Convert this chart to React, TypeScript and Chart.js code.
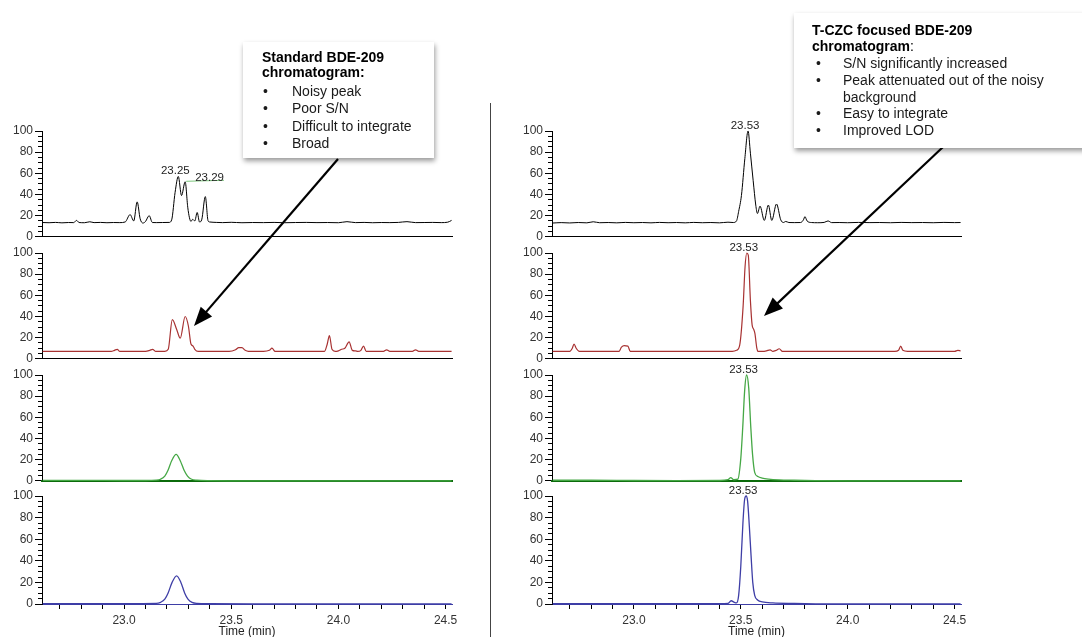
import React, { useEffect, useRef } from "react";
import { Chart, registerables } from "chart.js";
Chart.register(...registerables);

const FONT = '"Liberation Sans", Arial, sans-serif';

// ---------- axes ----------
const X_MIN = 22.617;
const X_MAX = 24.53;
const X_TICKS = [22.7, 22.8, 22.9, 23.0, 23.1, 23.2, 23.3, 23.4, 23.5, 23.6, 23.7, 23.8, 23.9, 24.0, 24.1, 24.2, 24.3, 24.4, 24.5];
const X_TICK_LABELS = ["23.0", "23.5", "24.0", "24.5"];
const Y_MAJOR_TICKS = [0, 20, 40, 60, 80, 100];
const X_TITLE = "Time (min)";

// ---------- left column (standard) ----------
const L1_T = [22.62, 22.65, 22.68, 22.71, 22.74, 22.765, 22.778, 22.79, 22.815, 22.84, 22.86, 22.89, 22.92, 22.95, 22.98, 23.005, 23.028, 23.045, 23.061, 23.075, 23.088, 23.1, 23.117, 23.132, 23.15, 23.18, 23.21, 23.222, 23.238, 23.253, 23.268, 23.285, 23.297, 23.305, 23.312, 23.32, 23.33, 23.341, 23.352, 23.362, 23.379, 23.392, 23.4, 23.43, 23.46, 23.5, 23.55, 23.6, 23.65, 23.7, 23.75, 23.8, 23.85, 23.9, 23.95, 24.0, 24.04, 24.08, 24.12, 24.16, 24.2, 24.24, 24.28, 24.32, 24.36, 24.4, 24.44, 24.48, 24.51, 24.528];
const L1_V = [13.5, 13.3, 13.6, 13.2, 13.5, 13.4, 15.5, 13.5, 13.3, 14.2, 13.4, 13.6, 13.3, 13.5, 13.4, 14, 21, 15, 33, 17, 13, 14.5, 20, 13.5, 13.4, 13.5, 13.6, 16, 42, 57, 39, 52, 28, 18, 14.5, 16.5, 15, 23, 14, 16, 38, 15, 14, 13.6, 13.4, 13.7, 13.3, 13.5, 13.4, 13.6, 13.3, 13.5, 13.6, 13.4, 13.5, 13.3, 14.3, 13.4, 13.6, 13.3, 13.5, 13.4, 13.6, 14.3, 13.4, 13.5, 13.6, 13.4, 13.8, 15.5];

const L2_T = [22.62, 22.7, 22.78, 22.86, 22.94, 22.955, 22.968, 22.98, 23.03, 23.1, 23.12, 23.133, 23.148, 23.19, 23.206, 23.225, 23.245, 23.262, 23.285, 23.3, 23.312, 23.322, 23.33, 23.345, 23.4, 23.49, 23.52, 23.535, 23.55, 23.565, 23.58, 23.65, 23.678, 23.69, 23.705, 23.8, 23.9, 23.935, 23.948, 23.958, 23.97, 23.985, 24.0, 24.015, 24.03, 24.05, 24.065, 24.08, 24.09, 24.105, 24.117, 24.13, 24.17, 24.21, 24.225, 24.24, 24.3, 24.345, 24.36, 24.375, 24.45, 24.528];
const L2_V = [7, 7, 7, 7, 7, 8, 9, 7, 7, 7, 8, 9, 7, 7, 9, 37, 28, 19.5, 40, 31, 14, 12, 9, 7, 7, 7, 8.5, 10.5, 10.5, 8, 7, 7, 8, 10, 7, 7, 7, 7, 14, 22, 9, 7, 7.5, 9, 10, 16, 8, 7.5, 7, 8, 12, 7, 7, 7, 8.5, 7, 7, 7, 8.5, 7, 7, 7];

const L3_T = [22.62, 22.8, 23.0, 23.1, 23.15, 23.17, 23.19, 23.205, 23.222, 23.243, 23.262, 23.28, 23.296, 23.315, 23.34, 23.4, 23.6, 24.528];
const L3_V = [0.4, 0.4, 0.3, 0.3, 0.6, 1.5, 4.5, 10, 19, 25, 19, 10, 4.5, 1.5, 0.6, 0.2, 0, 0];

const L4_T = [22.62, 23.0, 23.15, 23.17, 23.19, 23.205, 23.224, 23.245, 23.265, 23.283, 23.298, 23.317, 23.34, 23.4, 23.6, 24.528];
const L4_V = [0.3, 0.3, 0.5, 1.5, 4.5, 10, 20, 26, 20, 10, 4.5, 1.5, 0.6, 0.3, 0.1, 0];

// ---------- right column (T-CZC focused) ----------
const R1_T = [22.62, 22.66, 22.7, 22.74, 22.78, 22.81, 22.84, 22.88, 22.92, 22.96, 23.0, 23.04, 23.08, 23.12, 23.16, 23.2, 23.24, 23.28, 23.32, 23.36, 23.4, 23.44, 23.465, 23.48, 23.49, 23.503, 23.519, 23.534, 23.545, 23.558, 23.57, 23.578, 23.59, 23.61, 23.629, 23.645, 23.667, 23.687, 23.7, 23.71, 23.725, 23.75, 23.78, 23.793, 23.8, 23.81, 23.83, 23.86, 23.89, 23.908, 23.925, 23.96, 24.0, 24.05, 24.1, 24.15, 24.2, 24.25, 24.3, 24.35, 24.4, 24.45, 24.5, 24.528];
const R1_V = [13, 13.4, 13.1, 13.5, 13.2, 14.2, 13.3, 13.5, 13.2, 13.6, 13.3, 13.5, 13.2, 13.6, 13.3, 13.5, 13.2, 13.6, 13.3, 13.5, 13.2, 13.8, 13.5, 15, 24, 39, 74, 100, 79, 53, 30, 22, 29, 15.5, 30, 15.5, 31, 16, 13.5, 14.5, 13.5, 13.4, 13.5, 16, 19, 15, 13.5, 13.3, 13.6, 15, 13.4, 13.5, 13.3, 13.6, 13.4, 13.5, 13.3, 13.6, 13.4, 13.5, 13.3, 13.6, 13.4, 13.5];

const R2_T = [22.62, 22.66, 22.7, 22.712, 22.72, 22.73, 22.745, 22.8, 22.88, 22.93, 22.942, 22.955, 22.972, 22.983, 23.0, 23.1, 23.2, 23.3, 23.4, 23.46, 23.48, 23.495, 23.511, 23.52, 23.528, 23.535, 23.545, 23.553, 23.56, 23.566, 23.575, 23.58, 23.6, 23.62, 23.637, 23.65, 23.665, 23.68, 23.695, 23.75, 23.85, 23.95, 24.05, 24.15, 24.22, 24.238, 24.248, 24.258, 24.28, 24.35, 24.45, 24.5, 24.515, 24.528];
const R2_V = [7, 7, 7, 10, 14, 10, 7, 7, 7, 7, 11, 12.4, 12, 7, 7, 7, 7, 7, 7, 7, 8, 13, 50, 87, 100, 98, 55, 32, 28, 24, 10, 7, 7, 7.5, 8.5, 7, 8, 9.5, 7, 7, 7, 7, 7, 7, 7, 8, 12, 8, 7, 7, 7, 7, 8, 7.5];

const R3_T = [22.62, 22.8, 23.0, 23.2, 23.4, 23.44, 23.453, 23.468, 23.486, 23.5, 23.509, 23.518, 23.527, 23.537, 23.547, 23.555, 23.565, 23.58, 23.6, 23.63, 23.68, 23.75, 23.85, 24.0, 24.528];
const R3_V = [0.5, 0.5, 0.3, 0.2, 0.3, 1, 3, 1, 1.5, 21, 50, 85, 100, 88, 50, 25, 8, 4, 2.5, 1.5, 0.8, 0.5, 0.2, 0, 0];

const R4_T = [22.62, 23.0, 23.4, 23.44, 23.455, 23.47, 23.48, 23.49, 23.5, 23.51, 23.518, 23.525, 23.532, 23.54, 23.548, 23.556, 23.565, 23.58, 23.6, 23.65, 23.75, 23.85, 24.0, 24.528];
const R4_V = [0.3, 0.3, 0.3, 0.5, 3, 1.5, 1, 8, 35, 75, 97, 100, 95, 72, 45, 20, 8, 3.5, 2, 1, 0.5, 0.2, 0, 0];

// ---------- peak labels (retention times) ----------
const L1_LABELS = [{ t: 23.253, text: "23.25", side: "top" }, { t: 23.285, text: "23.29", side: "right" }];
const R1_LABELS = [{ t: 23.534, text: "23.53", side: "top" }];
const R2_LABELS = [{ t: 23.528, text: "23.53", side: "top" }];
const R3_LABELS = [{ t: 23.527, text: "23.53", side: "top" }];
const R4_LABELS = [{ t: 23.525, text: "23.53", side: "top" }];

// ---------- annotation text ----------
const LEFT_NOTE_TITLE = ["Standard BDE-209", "chromatogram:"];
const LEFT_NOTE_BULLETS = ["Noisy peak", "Poor S/N", "Difficult to integrate", "Broad"];
const RIGHT_NOTE_TITLE = ["T-CZC focused BDE-209", "chromatogram"];
const RIGHT_NOTE_BULLETS = [["S/N significantly increased"], ["Peak attenuated out of the noisy", "background"], ["Easy to integrate"], ["Improved LOD"]];

const RED = "#a83232";
const GREEN = "#46a846";
const BLUE = "#3e3ea6";

type Panel = { col: number; row: number; t: number[]; v: number[]; color: string; width: number; axisColor: string; axisWidth: number; labels: { t: number; text: string; side: string }[] };

const PANELS: Panel[] = [
  { col: 0, row: 0, t: L1_T, v: L1_V, color: "#000", width: 1, axisColor: "#000", axisWidth: 1, labels: L1_LABELS },
  { col: 0, row: 1, t: L2_T, v: L2_V, color: RED, width: 1.2, axisColor: "#000", axisWidth: 1, labels: [] },
  { col: 0, row: 2, t: L3_T, v: L3_V, color: GREEN, width: 1.3, axisColor: "#0b6b0b", axisWidth: 2, labels: [] },
  { col: 0, row: 3, t: L4_T, v: L4_V, color: BLUE, width: 1.3, axisColor: BLUE, axisWidth: 1, labels: [] },
  { col: 1, row: 0, t: R1_T, v: R1_V, color: "#000", width: 1, axisColor: "#000", axisWidth: 1, labels: R1_LABELS },
  { col: 1, row: 1, t: R2_T, v: R2_V, color: RED, width: 1.2, axisColor: "#000", axisWidth: 1, labels: R2_LABELS },
  { col: 1, row: 2, t: R3_T, v: R3_V, color: GREEN, width: 1.3, axisColor: "#0b6b0b", axisWidth: 2, labels: R3_LABELS },
  { col: 1, row: 3, t: R4_T, v: R4_V, color: BLUE, width: 1.3, axisColor: BLUE, axisWidth: 1, labels: R4_LABELS },
];

// layout geometry (page pixels)
const COL_X = [0, 500];
const COL_W = [480, 582];
const Y_AXIS_W = [42, 52];
const PAD_R = [28, 121];
const ROW_TOP = [131, 253, 375, 496];
const ROW_BOTTOM = [239, 361, 483, 604];
const PAGE_H = 637;

function geom(p: Panel) {
  const last = p.row === 3;
  const top = ROW_TOP[p.row] - 15;
  const h = last ? PAGE_H - top : ROW_BOTTOM[p.row] - ROW_TOP[p.row] + 25;
  return { left: COL_X[p.col], top, w: COL_W[p.col], h, last };
}

const majorTickPlugin = {
  id: "majorTicks",
  afterDraw(chart: any) {
    const ys = chart.scales.y;
    const ctx = chart.ctx;
    const x0 = chart.chartArea.left;
    ctx.save();
    ctx.strokeStyle = "#000";
    ctx.lineWidth = 1;
    Y_MAJOR_TICKS.forEach((v) => {
      const py = Math.round(ys.getPixelForValue(v) - 0.5) + 0.5;
      ctx.beginPath();
      ctx.moveTo(x0 - 7, py);
      ctx.lineTo(x0 - 2, py);
      ctx.stroke();
    });
    ctx.restore();
  },
};

function peakLabelPlugin(labels: Panel["labels"]) {
  return {
    id: "peakLabels",
    afterDatasetsDraw(chart: any) {
      if (!labels.length) return;
      const ctx = chart.ctx;
      const xs = chart.scales.x;
      const ys = chart.scales.y;
      const data = chart.data.datasets[0].data as { x: number; y: number }[];
      ctx.save();
      ctx.font = `11.5px ${FONT}`;
      ctx.fillStyle = "#222";
      labels.forEach((l) => {
        let best = data[0];
        data.forEach((pt) => {
          if (Math.abs(pt.x - l.t) < Math.abs(best.x - l.t)) best = pt;
        });
        const px = xs.getPixelForValue(best.x);
        const py = ys.getPixelForValue(best.y);
        if (l.side === "right") {
          const w = ctx.measureText(l.text).width;
          ctx.strokeStyle = "#7cc67c";
          ctx.lineWidth = 1;
          ctx.beginPath();
          ctx.moveTo(px + 1, py - 0.5);
          ctx.lineTo(px + 10 + w, py - 1.5);
          ctx.stroke();
          ctx.textAlign = "left";
          ctx.textBaseline = "alphabetic";
          ctx.fillText(l.text, px + 10, py - 1);
        } else {
          ctx.textAlign = "center";
          ctx.textBaseline = "alphabetic";
          ctx.fillText(l.text, px - 3, py - 2.5);
        }
      });
      ctx.restore();
    },
  };
}

function xLabel(v: number) {
  const hit = X_TICK_LABELS.find((s) => Math.abs(parseFloat(s) - v) < 1e-6);
  return hit ?? "";
}

function makeChart(canvas: HTMLCanvasElement, p: Panel) {
  const g = geom(p);
  const last = g.last;
  return new Chart(canvas, {
    type: "line",
    data: {
      datasets: [
        {
          data: p.t.map((t, k) => ({ x: t, y: p.v[k] })),
          borderColor: p.color,
          borderWidth: p.width,
          pointRadius: 0,
          cubicInterpolationMode: "monotone",
          clip: false as any,
          fill: false,
        },
      ],
    },
    options: {
      responsive: false,
      maintainAspectRatio: false,
      animation: false,
      events: [],
      layout: { padding: { top: 15, bottom: last ? 0 : 10, left: 0, right: PAD_R[p.col] } },
      plugins: { legend: { display: false }, tooltip: { enabled: false }, title: { display: false } },
      scales: {
        x: {
          type: "linear",
          min: X_MIN,
          max: X_MAX,
          afterBuildTicks: (s: any) => {
            s.ticks = X_TICKS.map((value) => ({ value }));
          },
          afterFit: (s: any) => {
            s.height = last ? 33 : 0;
          },
          grid: { display: last, drawOnChartArea: false, drawTicks: true, tickLength: 5, tickColor: "#000", tickWidth: 1 },
          border: { display: true, color: p.axisColor, width: p.axisWidth },
          ticks: {
            display: last,
            autoSkip: false,
            maxRotation: 0,
            padding: 4,
            color: "#333",
            font: { family: FONT, size: 12 },
            callback: (v: any) => xLabel(Number(v)),
          },
          title: {
            display: last,
            text: X_TITLE,
            color: "#222",
            font: { family: FONT, size: 12, lineHeight: 0.9 },
            padding: { top: 0, bottom: 0 },
          },
        },
        y: {
          type: "linear",
          min: 0,
          max: 100,
          afterFit: (s: any) => {
            s.width = Y_AXIS_W[p.col];
          },
          grid: { drawOnChartArea: false, drawTicks: true, tickLength: 4, tickColor: "#000" },
          border: { display: true, color: "#000", width: 1 },
          ticks: {
            stepSize: 5,
            autoSkip: false,
            padding: 5,
            color: "#333",
            font: { family: FONT, size: 12 },
            callback: (v: any) => (Y_MAJOR_TICKS.includes(Number(v)) ? String(v) : ""),
          },
        },
      },
    } as any,
    plugins: [majorTickPlugin, peakLabelPlugin(p.labels)],
  });
}

function Arrow({ x1, y1, x2, y2 }: { x1: number; y1: number; x2: number; y2: number }) {
  const dx = x2 - x1;
  const dy = y2 - y1;
  const L = Math.hypot(dx, dy);
  const ux = dx / L;
  const uy = dy / L;
  const hl = 19;
  const hw = 7.5;
  const bx = x2 - ux * hl;
  const by = y2 - uy * hl;
  return (
    <g>
      <line x1={x1} y1={y1} x2={bx + ux * 2} y2={by + uy * 2} stroke="#000" strokeWidth={2.2} />
      <polygon points={`${x2},${y2} ${bx - uy * hw},${by + ux * hw} ${bx + uy * hw},${by - ux * hw}`} fill="#000" />
    </g>
  );
}

const boxBase: React.CSSProperties = {
  position: "absolute",
  background: "#fff",
  boxShadow: "1px 3px 5px rgba(0,0,0,0.4)",
  fontFamily: FONT,
  fontSize: 14,
  color: "#1a1a1a",
};
const lineStyle = (top: number, left: number, bold = false): React.CSSProperties => ({
  position: "absolute",
  top,
  left,
  lineHeight: "16px",
  whiteSpace: "nowrap",
  fontWeight: bold ? 700 : 400,
  color: bold ? "#000" : "#1a1a1a",
});

export default function App() {
  const refs = useRef<(HTMLCanvasElement | null)[]>([]);
  useEffect(() => {
    const charts = PANELS.map((p, i) => makeChart(refs.current[i] as HTMLCanvasElement, p));
    return () => charts.forEach((c) => c.destroy());
  }, []);

  let rightLine = 0;
  return (
    <div style={{ position: "absolute", left: 0, top: 0, width: 1082, height: 637, overflow: "hidden", background: "#fff" }}>
      {PANELS.map((p, i) => {
        const g = geom(p);
        return (
          <canvas
            key={i}
            ref={(el) => {
              refs.current[i] = el;
            }}
            width={g.w}
            height={g.h}
            style={{ position: "absolute", left: g.left, top: g.top, width: g.w, height: g.h }}
          />
        );
      })}
      <svg width={1082} height={637} style={{ position: "absolute", left: 0, top: 0 }}>
        <line x1={490.5} y1={103} x2={490.5} y2={637} stroke="#444" strokeWidth={1} />
        <Arrow x1={338} y1={159} x2={194} y2={326} />
        <Arrow x1={943} y1={147} x2={764} y2={316} />
      </svg>
      <div style={{ ...boxBase, left: 243, top: 42, width: 191, height: 116 }}>
        {LEFT_NOTE_TITLE.map((s, i) => (
          <div key={"t" + i} style={lineStyle(7 + i * 15, 19, true)}>{s}</div>
        ))}
        {LEFT_NOTE_BULLETS.map((s, i) => (
          <React.Fragment key={"b" + i}>
            <div style={lineStyle(41 + i * 17.3, 20)}>•</div>
            <div style={lineStyle(41 + i * 17.3, 49)}>{s}</div>
          </React.Fragment>
        ))}
      </div>
      <div style={{ ...boxBase, left: 794, top: 13, width: 300, height: 135 }}>
        <div style={lineStyle(9, 18, true)}>{RIGHT_NOTE_TITLE[0]}</div>
        <div style={lineStyle(25, 18, true)}>
          {RIGHT_NOTE_TITLE[1]}
          <span style={{ fontWeight: 400 }}>:</span>
        </div>
        {RIGHT_NOTE_BULLETS.map((item, i) =>
          item.map((s, j) => {
            const top = 42 + rightLine++ * 16.8;
            return (
              <React.Fragment key={"r" + i + "_" + j}>
                {j === 0 && <div style={lineStyle(top, 22)}>•</div>}
                <div style={lineStyle(top, 49)}>{s}</div>
              </React.Fragment>
            );
          })
        )}
      </div>
    </div>
  );
}
